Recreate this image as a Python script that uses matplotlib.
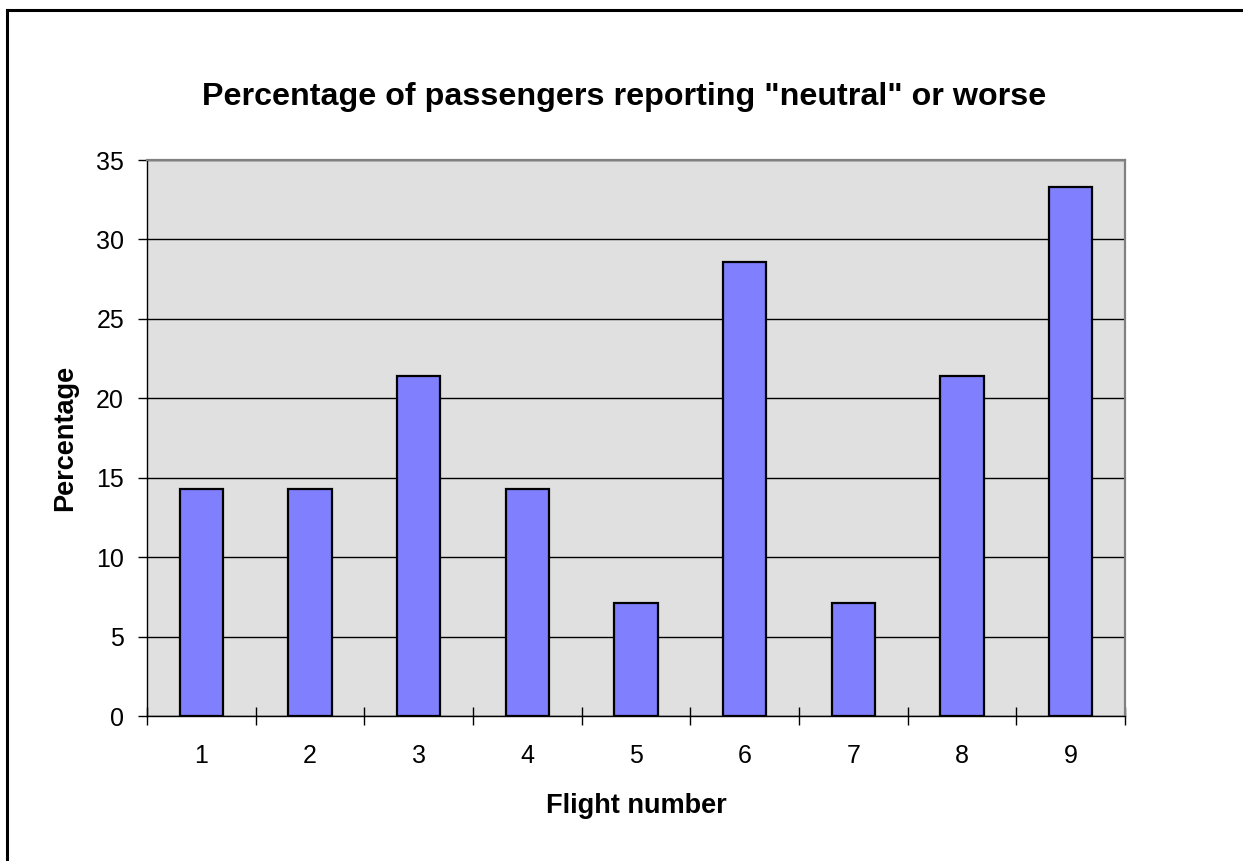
import matplotlib
matplotlib.use("Agg")
import matplotlib.pyplot as plt
from matplotlib.lines import Line2D

flights = ["1", "2", "3", "4", "5", "6", "7", "8", "9"]
percentages = [14.29, 14.29, 21.43, 14.29, 7.14, 28.57, 7.14, 21.43, 33.33]
yticks = [0, 5, 10, 15, 20, 25, 30, 35]
title = 'Percentage of passengers reporting "neutral" or worse'
xlabel = "Flight number"
ylabel = "Percentage"

plt.rcParams['font.family'] = ['Liberation Sans', 'DejaVu Sans']

W, H = 1243, 861
fig = plt.figure(figsize=(W / 100, H / 100), dpi=100)
ax = fig.add_axes([147 / W, 1 - 716 / H, (1125 - 147) / W, (716 - 160) / H])
ax.set_facecolor("#E0E0E0")

x = list(range(len(flights)))
ax.bar(x, percentages, width=0.4, color="#8080FF", edgecolor="black", linewidth=1.6, zorder=3)

ax.set_xlim(-0.5, len(flights) - 0.5)
ax.set_ylim(0, 35)
ax.set_yticks(yticks)
ax.set_yticklabels([str(t) for t in yticks], fontsize=18)
ax.yaxis.grid(True, color="black", linewidth=1.0, zorder=1)
ax.set_axisbelow(True)

ax.set_xticks(x)
ax.set_xticklabels(flights, fontsize=18)
ax.tick_params(axis='x', which='major', length=0, pad=20)
ax.set_xticks([i - 0.5 for i in range(len(flights) + 1)], minor=True)
ax.tick_params(axis='x', which='minor', length=13, direction='inout', width=1.0, color='black')
ax.tick_params(axis='y', length=6.5, direction='out', width=1.0, pad=10)

for s in ['top', 'right']:
    ax.spines[s].set_color("#808080")
    ax.spines[s].set_linewidth(1.6)
for s in ['left', 'bottom']:
    ax.spines[s].set_color("black")
    ax.spines[s].set_linewidth(1.0)

ax.set_xlabel(xlabel, fontsize=19.5, fontweight='bold', labelpad=18)
ax.set_ylabel(ylabel, fontsize=19.5, fontweight='bold', labelpad=13)
fig.text(624 / W, 1 - 97 / H, title, ha='center', va='center', fontsize=23.2, fontweight='bold')

fig.add_artist(Line2D([7 / W, 7 / W], [0, 1 - 10 / H], color='black', linewidth=2.2, transform=fig.transFigure))
fig.add_artist(Line2D([7 / W, 1], [1 - 10 / H, 1 - 10 / H], color='black', linewidth=2.2, transform=fig.transFigure))

fig.savefig("out.png", dpi=100)
